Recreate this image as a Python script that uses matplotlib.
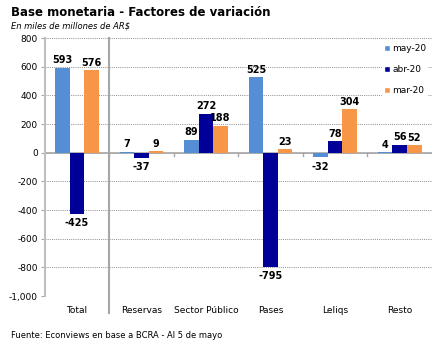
import numpy as np
import matplotlib.pyplot as plt
from matplotlib.lines import Line2D

categorias = ['Total', 'Reservas', 'Sector Público', 'Pases', 'Leliqs', 'Resto']
series = ['may-20', 'abr-20', 'mar-20']
may20 = [593, 7, 89, 525, -32, 4]
abr20 = [-425, -37, 272, -795, 78, 56]
mar20 = [576, 9, 188, 23, 304, 52]
colores = ['#558ED5', '#000099', '#F79646']

plt.rcParams['font.family'] = ['DejaVu Sans']

fig = plt.figure(figsize=(4.44, 3.44), dpi=100)
ax = fig.add_axes([0.101, 0.1395, 0.872, 0.75])

x = np.arange(len(categorias))
w = 0.225
for i, (vals, col, nom) in enumerate(zip([may20, abr20, mar20], colores, series)):
    xs = x + (i - 1) * w
    ax.bar(xs, vals, w, color=col, label=nom, zorder=3)
    for xi, v in zip(xs, vals):
        if v >= 0:
            ax.text(xi, v + 18, str(v), ha='center', va='bottom',
                    fontsize=7, fontweight='bold', zorder=4)
        else:
            ax.text(xi, v - 30, '-' + str(abs(v)), ha='center', va='top',
                    fontsize=7, fontweight='bold', zorder=4)

ax.set_xlim(-0.5, 5.5)
ax.set_ylim(-1000, 800)
yt = np.arange(-1000, 801, 200)
ax.set_yticks(yt)
ax.set_yticklabels([('-' if t < 0 else '') + '{:,}'.format(abs(t)) for t in yt], fontsize=6.5)
ax.yaxis.grid(True, linestyle=(0, (1, 1.2)), color='#8C8C8C', linewidth=0.7, zorder=0)
ax.axhline(0, color='#A6A6A6', linewidth=1.2, zorder=2)

# marcas sobre el eje cero
for b in x[:-1] + 0.5:
    ax.plot([b, b], [0, -22], color='#A6A6A6', linewidth=1, zorder=2)

ax.set_xticks(x)
ax.set_xticklabels(categorias, fontsize=6.5)
ax.tick_params(axis='x', length=0, pad=7)
ax.tick_params(axis='y', length=3, color='#A6A6A6', pad=2)

for s in ['top', 'right', 'bottom']:
    ax.spines[s].set_visible(False)
ax.spines['left'].set_color('#BFBFBF')
ax.spines['left'].set_linewidth(1.5)

# separador entre Total y el resto
ax.plot([0.5, 0.5], [800, -1120], color='#A6A6A6', linewidth=1.5,
        clip_on=False, zorder=2)

handles = [Line2D([0], [0], marker='s', color='w', markerfacecolor=c,
                  markersize=4.5, linestyle='') for c in colores]
leg = ax.legend(handles, series, loc='upper left', bbox_to_anchor=(0.86, 1.0),
                frameon=True, fontsize=6.5, handlelength=0.6, handletextpad=0.3,
                labelspacing=1.3, borderpad=0.2)
leg.get_frame().set_facecolor('white')
leg.get_frame().set_edgecolor('none')
leg.get_frame().set_alpha(1)

fig.text(0.025, 0.965, 'Base monetaria - Factores de variación', fontsize=8.5,
         fontweight='bold', va='center')
fig.text(0.025, 0.925, 'En miles de millones de AR$', fontsize=6,
         fontstyle='italic', va='center')
fig.text(0.025, 0.025, 'Fuente: Econviews en base a BCRA - Al 5 de mayo',
         fontsize=6, va='center')

fig.savefig('out.png', dpi=100)
